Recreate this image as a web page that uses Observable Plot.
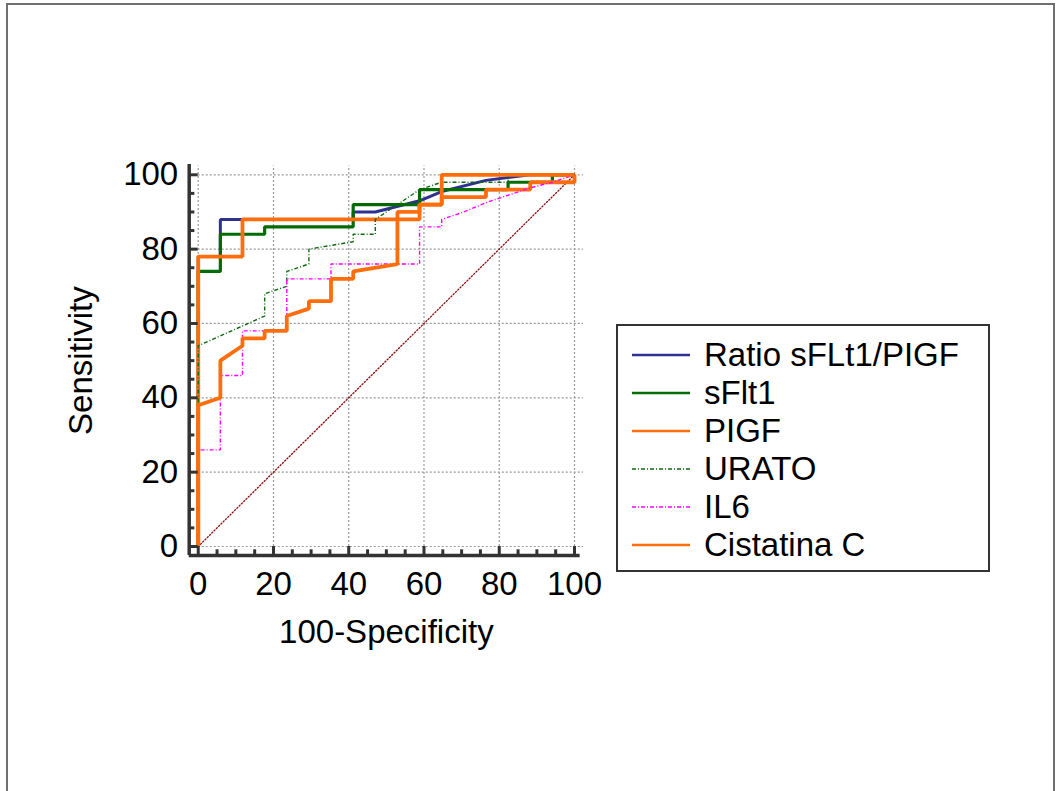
<!DOCTYPE html>
<html><head><meta charset="utf-8">
<script src="https://cdn.jsdelivr.net/npm/d3@7"></script>
<script src="https://cdn.jsdelivr.net/npm/@observablehq/plot@0.6"></script>
<style>
body{margin:0;background:#fff;font-family:"Liberation Sans",Arial,sans-serif;}
#wrap{position:relative;width:1062px;height:791px;overflow:hidden;background:#fff;}
#frame{position:absolute;left:6px;top:3px;width:1049px;height:840px;border:2px solid #707070;box-sizing:border-box;}
#chart{position:absolute;left:0;top:0;}
#legend{position:absolute;left:616px;top:324px;width:374px;height:248px;border:2px solid #333;box-sizing:border-box;background:#fff;}
.row{position:absolute;left:0;height:38px;display:flex;align-items:center;font-size:33px;color:#000;white-space:nowrap;}
.row svg{margin-left:14px;margin-right:14px;}
</style></head>
<body>
<div id="wrap"><div id="frame"></div><div id="chart"></div><div id="legend"></div></div>
<script>
// ---- data ----
const seriesNames = ["Ratio sFLt1/PIGF", "sFlt1", "PIGF", "URATO", "IL6", "Cistatina C"];

const ratioX = [0, 0, 5.88, 5.88, 41.18, 41.18, 47.06, 58.82, 64.71, 76.47, 88.24, 100];
const ratioY = [0, 78, 78, 88, 88, 90, 90, 93, 95.5, 98.5, 100, 100];

const sflt1X = [0, 0, 5.88, 5.88, 17.65, 17.65, 41.18, 41.18, 58.82, 58.82, 82.35, 82.35, 94.12, 94.12, 100];
const sflt1Y = [0, 74, 74, 84, 84, 86, 86, 92, 92, 96, 96, 98, 98, 100, 100];

const pigfX = [0, 0, 11.76, 11.76, 58.82, 58.82, 64.71, 64.71, 76.47, 76.47, 88.24, 88.24, 100, 100];
const pigfY = [0, 78, 78, 88, 88, 92, 92, 94, 94, 96, 96, 98, 98, 100];

const uratoX = [0, 0, 17.65, 17.65, 23.53, 23.53, 29.41, 29.41, 41.18, 41.18, 47.06, 47.06, 58.82, 64.71, 82.35, 82.35, 100];
const uratoY = [0, 54, 62, 68, 70, 74, 76, 80, 82, 84, 84, 88, 96, 98, 98, 100, 100];

const il6X = [0, 0, 5.88, 5.88, 11.76, 11.76, 23.53, 23.53, 35.29, 35.29, 58.82, 58.82, 64.71, 64.71, 70.59, 76.47, 82.35, 88.24, 94.12, 100];
const il6Y = [0, 26, 26, 46, 46, 58, 58, 72, 72, 76, 76, 86, 86, 88, 90, 92.5, 94.5, 96.5, 98, 100];

const cistX = [0, 0, 5.88, 5.88, 11.76, 11.76, 17.65, 17.65, 23.53, 23.53, 29.41, 29.41, 35.29, 35.29, 41.18, 41.18, 52.94, 52.94, 58.82, 58.82, 64.71, 64.71, 100];
const cistY = [0, 38, 40, 50, 54, 56, 56, 58, 58, 62, 64, 66, 66, 72, 72, 74, 76, 90, 90, 92, 92, 100, 100];

const diagX = [0, 100];
const diagY = [0, 100];

const majorTicks = [0, 20, 40, 60, 80, 100];
const majorTickLabels = ["0", "20", "40", "60", "80", "100"];
const minorTicks = [5, 10, 15, 25, 30, 35, 45, 50, 55, 65, 70, 75, 85, 90, 95];
const xTitle = "100-Specificity";
const yTitle = "Sensitivity";

// ---- styles ----
const styles = [
  {stroke: "#2e3192", strokeWidth: 3, dash: null},
  {stroke: "#036b03", strokeWidth: 3.2, dash: null},
  {stroke: "#ff6d0d", strokeWidth: 3.8, dash: null},
  {stroke: "#0b6b0b", strokeWidth: 1.4, dash: "4,2,1,2"},
  {stroke: "#ff00ff", strokeWidth: 1.4, dash: "4,2,1,2"},
  {stroke: "#ff6d0d", strokeWidth: 3.8, dash: null}
];
const seriesXs = [ratioX, sflt1X, pigfX, uratoX, il6X, cistX];
const seriesYs = [ratioY, sflt1Y, pigfY, uratoY, il6Y, cistY];

const lo = -2.4, hi = 102.4;
const axisColor = "#333";
const fs = 33;

const lineMarks = seriesNames.map((name, k) => {
  const rows = seriesXs[k].map((x, i) => ({series: name, x, y: seriesYs[k][i]}));
  return Plot.line(rows, {x: "x", y: "y", stroke: styles[k].stroke, strokeWidth: styles[k].strokeWidth,
    strokeDasharray: styles[k].dash || undefined, strokeLinejoin: "miter", strokeLinecap: "butt"});
});

const diagRows = diagX.map((x, i) => ({x, y: diagY[i]}));

const chart = Plot.plot({
  width: 1062,
  height: 791,
  marginLeft: 188.7,
  marginRight: 488 - (hi - 100) * 3.763,
  marginTop: 174.3 - (hi - 100) * 3.717,
  marginBottom: 236.1,
  x: {domain: [lo, hi], axis: null},
  y: {domain: [lo, hi], axis: null},
  style: {fontFamily: "'Liberation Sans', Arial, sans-serif", background: "transparent", overflow: "visible"},
  marks: [
    // grid
    Plot.ruleX(majorTicks, {x: d => d, y1: () => 0, y2: () => hi, stroke: "#9a9a9a", strokeWidth: 1.2, strokeDasharray: "2,2", strokeOpacity: 1}),
    Plot.ruleY(majorTicks, {y: d => d, x1: () => 0, x2: () => hi, stroke: "#9a9a9a", strokeWidth: 1.2, strokeDasharray: "2,2", strokeOpacity: 1}),
    // reference diagonal
    Plot.line(diagRows, {x: "x", y: "y", stroke: "#8b0a0a", strokeWidth: 1.3, strokeDasharray: "1.2,2"}),
    // ROC curves
    ...lineMarks,
    // axis lines
    Plot.ruleX([lo], {x: d => d, y1: () => lo, y2: () => 102.8, stroke: axisColor, strokeWidth: 3.5, strokeOpacity: 1}),
    Plot.ruleY([lo], {y: d => d, x1: () => lo, x2: () => 101.5, stroke: axisColor, strokeWidth: 3.5, strokeOpacity: 1}),
    // ticks (inward)
    Plot.ruleY(majorTicks, {y: d => d, x1: () => lo, x2: () => 0, stroke: axisColor, strokeWidth: 3, strokeOpacity: 1}),
    Plot.ruleY(minorTicks, {y: d => d, x1: () => lo, x2: () => -0.9, stroke: axisColor, strokeWidth: 3, strokeOpacity: 1}),
    Plot.ruleX(majorTicks, {x: d => d, y1: () => lo, y2: () => 0, stroke: axisColor, strokeWidth: 3, strokeOpacity: 1}),
    Plot.ruleX(minorTicks, {x: d => d, y1: () => lo, y2: () => -0.9, stroke: axisColor, strokeWidth: 3, strokeOpacity: 1}),
    // tick labels
    Plot.text(majorTicks, {x: d => d, y: () => lo, text: (d, i) => majorTickLabels[i], dy: 29, fontSize: fs, fill: "#000", textAnchor: "middle", lineAnchor: "middle"}),
    Plot.text(majorTicks, {x: () => lo, y: d => d, text: (d, i) => majorTickLabels[i], dx: -11, fontSize: fs, fill: "#000", textAnchor: "end", lineAnchor: "middle"}),
    // axis titles
    Plot.text([xTitle], {x: () => 50, y: () => lo, text: d => d, dy: 77, fontSize: fs, fill: "#000", lineAnchor: "middle"}),
    Plot.text([yTitle], {x: () => lo, y: () => 50, text: d => d, dx: -108, rotate: -90, fontSize: fs, fill: "#000", lineAnchor: "middle"})
  ]
});
document.getElementById("chart").appendChild(chart);

// ---- legend ----
const legend = document.getElementById("legend");
const rowCenters = [31, 69, 107, 145, 183, 221];
seriesNames.forEach((name, k) => {
  const row = document.createElement("div");
  row.className = "row";
  row.style.top = (rowCenters[k] - 19 - 2) + "px";
  const s = styles[k];
  const lw = s.dash ? 1.3 : 2.4;
  row.innerHTML = `<svg width="58" height="10"><line x1="0" x2="58" y1="5" y2="5" stroke="${s.stroke}" stroke-width="${lw}" ${s.dash ? `stroke-dasharray="${s.dash}"` : ""}/></svg><span>${name}</span>`;
  legend.appendChild(row);
});
</script>
</body></html>
